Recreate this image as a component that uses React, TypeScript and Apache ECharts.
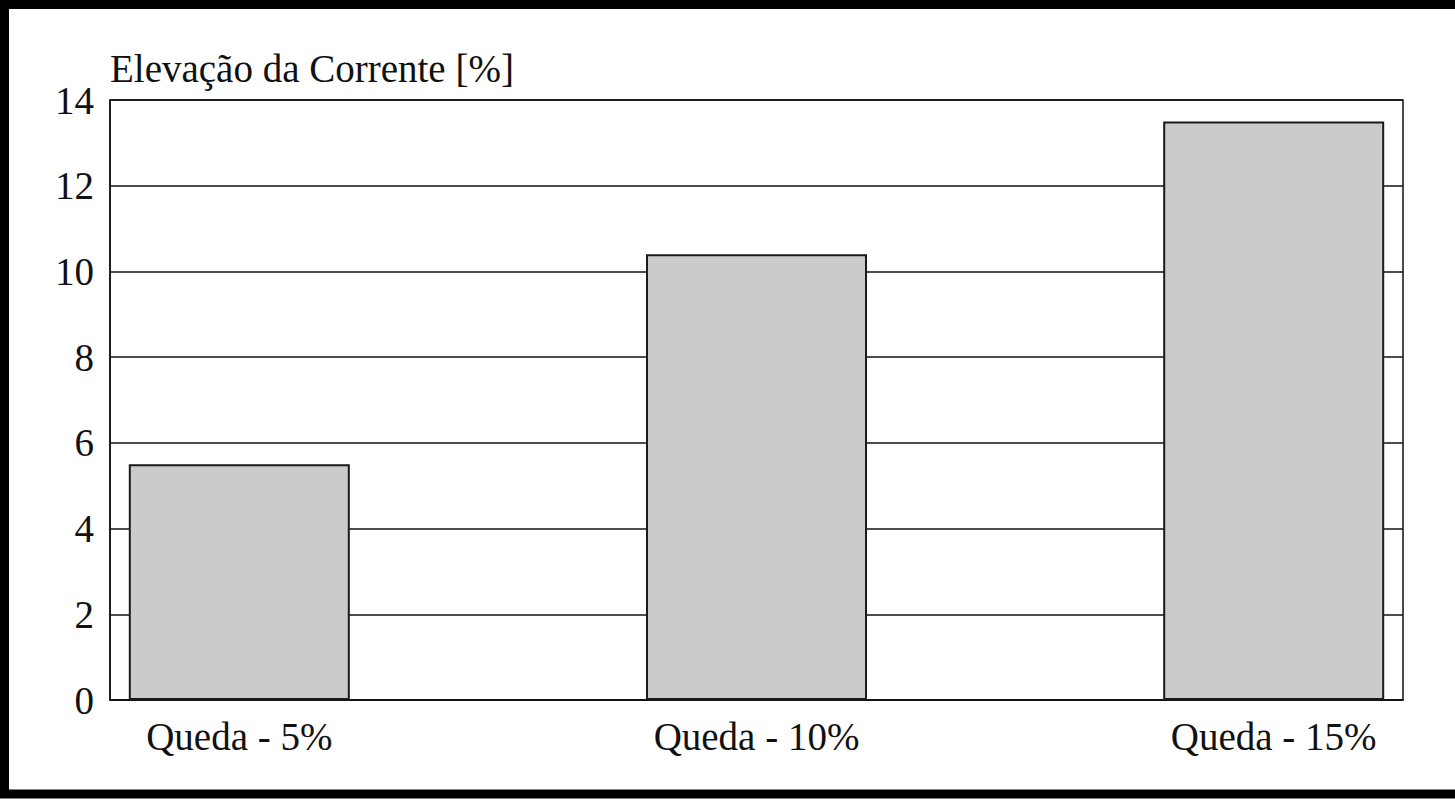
import React, { useEffect, useRef } from "react";
import * as echarts from "echarts";

// Current rise per voltage-drop scenario
const categories: string[] = ["Queda - 5%", "Queda - 10%", "Queda - 15%"];
const elevacao: number[] = [5.5, 10.4, 13.5];
const yTicks: number[] = [0, 2, 4, 6, 8, 10, 12, 14];
const yTitle = "Elevação da Corrente [%]";

const FONT = "Liberation Serif, Times New Roman, serif";

export default function App() {
  const ref = useRef<HTMLDivElement>(null);

  useEffect(() => {
    if (!ref.current) return;
    const chart = echarts.init(ref.current, null, { renderer: "svg" });

    const positions = categories.map((_, i) => i);
    const barData = elevacao.map((v, i) => [positions[i], v]);

    chart.setOption({
      animation: false,
      backgroundColor: "#ffffff",
      grid: {
        left: 110,
        top: 100,
        right: 52,
        bottom: 99,
        show: true,
        borderColor: "#111",
        borderWidth: 1.5,
        containLabel: false,
      },
      xAxis: {
        type: "value",
        min: -0.25,
        max: 2.25,
        axisLine: { show: true, onZero: false, lineStyle: { color: "#111", width: 1.5 } },
        axisTick: { show: false },
        splitLine: { show: false },
        axisLabel: {
          customValues: positions,
          formatter: (v: number) => categories[Math.round(v)] ?? "",
          color: "#111",
          fontFamily: FONT,
          fontSize: 39,
          margin: 17,
        },
      },
      yAxis: {
        type: "value",
        min: yTicks[0],
        max: yTicks[yTicks.length - 1],
        interval: 2,
        name: yTitle,
        nameLocation: "end",
        nameGap: 12,
        nameTextStyle: {
          align: "left",
          color: "#111",
          fontFamily: FONT,
          fontSize: 39,
        },
        axisLine: { show: true, onZero: false, lineStyle: { color: "#111", width: 1.5 } },
        axisTick: { show: false },
        splitLine: { show: true, lineStyle: { color: "#111", width: 1.5 } },
        axisLabel: {
          color: "#111",
          fontFamily: FONT,
          fontSize: 39,
          margin: 16,
          padding: [8, 0, 0, 0],
        },
      },
      series: [
        {
          type: "bar",
          data: barData,
          barWidth: 221,
          itemStyle: {
            color: "#cbcbcb",
            borderColor: "#1a1a1a",
            borderWidth: 2,
          },
        },
      ],
      graphic: [
        {
          type: "rect",
          left: 0,
          top: 0,
          z: 100,
          silent: true,
          shape: { x: 11.5, y: 9, width: 1500, height: 789.5 },
          style: { fill: "none", stroke: "#000", lineWidth: 9 },
        },
      ],
    });

    return () => chart.dispose();
  }, []);

  return (
    <div
      ref={ref}
      style={{
        position: "absolute",
        left: 0,
        top: 0,
        width: 1455,
        height: 799,
        background: "#fff",
      }}
    />
  );
}
